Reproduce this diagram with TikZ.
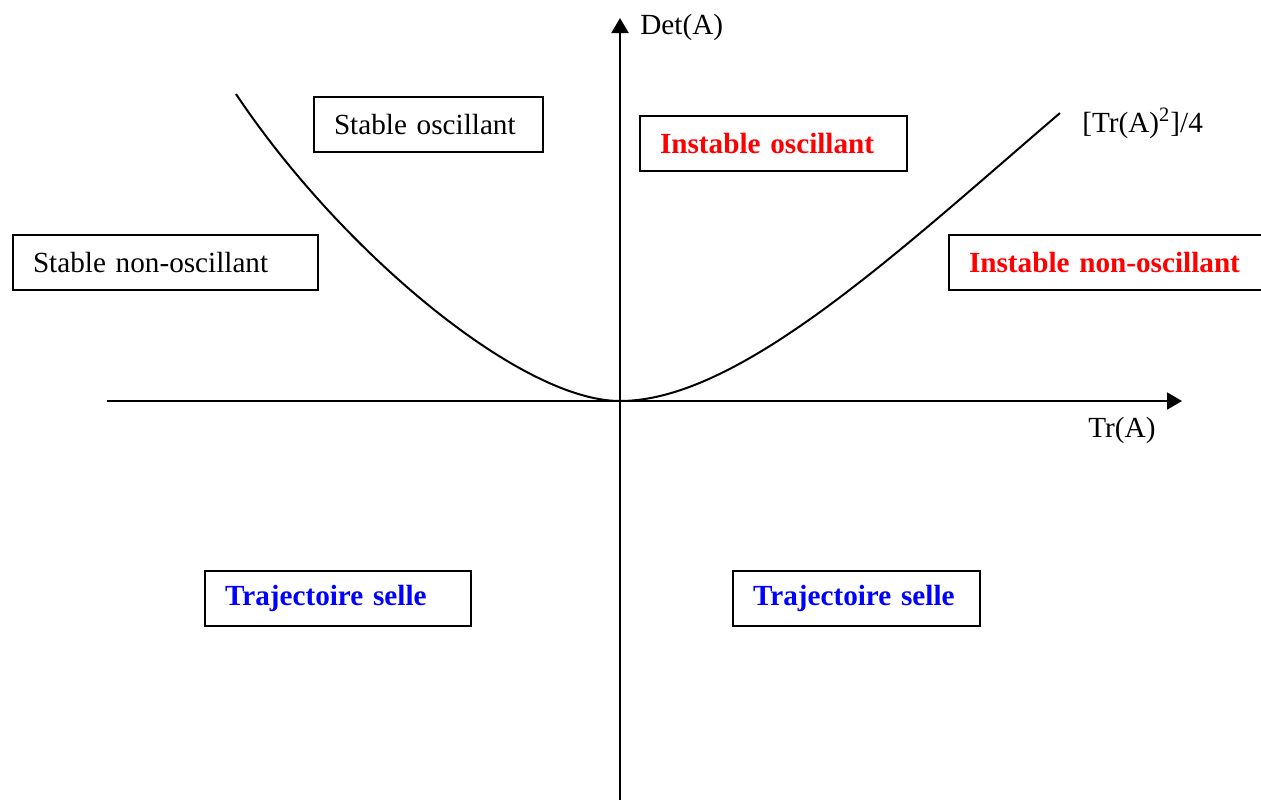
\documentclass[tikz,border=0pt]{standalone}
\usepackage{fontspec}
\setmainfont{Liberation Serif}
\usetikzlibrary{arrows.meta}
\definecolor{instred}{RGB}{255,0,0}
\definecolor{selleblue}{RGB}{0,0,255}
\begin{document}
\begin{tikzpicture}[x=0.5pt,y=-0.5pt,
  font=\fontsize{14.6pt}{17pt}\selectfont,
  regbox/.style={draw, line width=1pt, anchor=north west, inner xsep=10pt, inner ysep=0pt, minimum height=27.5pt, align=left},
  axis/.style={line width=1pt, -{Triangle[length=7.5pt,width=8.5pt]}},
  curve/.style={line width=1pt},
  lbl/.style={anchor=base west, inner sep=0pt},
  redtxt/.style={text=instred, font=\fontsize{14.6pt}{17pt}\selectfont\bfseries},
  bluetxt/.style={text=selleblue, font=\fontsize{14.6pt}{17pt}\selectfont\bfseries}]
\useasboundingbox (0,0) rectangle (1261,800);
\fill[white] (0,0) rectangle (1261,800);
\coordinate (O) at (620,401);
\coordinate (xs) at (107,401);
\coordinate (xe) at (1182,401);
\coordinate (ys) at (620,800);
\coordinate (ye) at (620,18);
\draw[axis] (xs) -- (xe);
\draw[axis] (ys) -- (ye);
\coordinate (L) at (236,94);
\coordinate (R) at (1060,113);
\draw[curve] (L) .. controls (340,250) and (520,401) .. (O) .. controls (740,401) and (900,250) .. (R);
\node[lbl] (det) at (640,34) {Det(A)};
\node[lbl] (tr) at (1088,437) {Tr(A)};
\node[lbl] (disc) at (1082,132) {[Tr(A)\textsuperscript{2}]/4};
\node[regbox, text width=132.5pt] (sno) at (12,234) {Stable non-oscillant};
\node[regbox, text width=94.5pt] (so) at (313,96) {Stable oscillant};
\node[regbox, redtxt, text width=113.5pt] (io) at (639,115) {Instable oscillant};
\node[regbox, redtxt, text width=145pt] (ino) at (948,234) {Instable non-oscillant};
\node[regbox, bluetxt, text width=113pt] (tsl) at (204,570) {Trajectoire selle};
\node[regbox, bluetxt, text width=103.5pt] (tsr) at (732,570) {Trajectoire selle};
\end{tikzpicture}
\end{document}
